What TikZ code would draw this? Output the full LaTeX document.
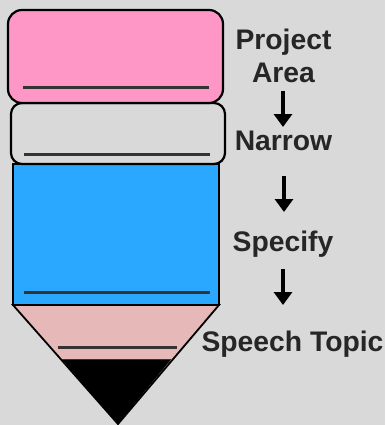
\documentclass[tikz,border=0pt]{standalone}
\usepackage{fontspec}
\setmainfont{Liberation Sans}
\usetikzlibrary{arrows.meta}
\definecolor{bg}{HTML}{D9D9D9}
\definecolor{pinkc}{HTML}{FF97C6}
\definecolor{bluec}{HTML}{2AA8FF}
\definecolor{tipc}{HTML}{E6B8B7}
\definecolor{txt}{HTML}{262626}
\definecolor{rule}{HTML}{333333}
\tikzset{
  lab/.style={text=txt,font=\fontsize{28.3}{33}\selectfont\bfseries,inner sep=0pt,align=center},
  rulel/.style={draw=rule,line width=2.4pt},
  arr/.style={draw=black,line width=4pt,-{Triangle[length=13pt,width=18pt]}},
  body/.style={draw=black,line width=2.2pt}
}
\begin{document}
\begin{tikzpicture}[x=1pt,y=-1pt]
\useasboundingbox (0,0) rectangle (385,425);
\fill[bg] (0,0) rectangle (385,425);
% tip
\filldraw[draw=black,line width=1.8pt,fill=tipc,line join=miter] (13,305) -- (219,305) -- (118,424) -- cycle;
\fill[black] (62,359.5) -- (167.5,359.5) -- (171,359.5) -- (118,423.5) -- cycle;
\draw[draw=rule,line width=1pt] (62,359.5) -- (171,359.5);
% body
\filldraw[body,fill=bluec] (13,164) rectangle (219,305);
\filldraw[body,fill=bg,rounded corners=11pt] (11,103) rectangle (225,164);
\filldraw[body,fill=pinkc,rounded corners=14pt] (8,10) rectangle (223,103);
% rules
\coordinate (r1a) at (23,87.4); \coordinate (r1b) at (209,87.4);
\coordinate (r2a) at (24,154.4); \coordinate (r2b) at (210,154.4);
\coordinate (r3a) at (24,292.4); \coordinate (r3b) at (210,292.4);
\coordinate (r4a) at (58,347.4); \coordinate (r4b) at (177,347.4);
\draw[rulel] (r1a) -- (r1b);
\draw[rulel] (r2a) -- (r2b);
\draw[rulel] (r3a) -- (r3b);
\draw[rulel] (r4a) -- (r4b);
% labels
\node[lab] (project) at (283.5,55.8) {Project\\Area};
\node[lab,anchor=base] (narrow) at (283.5,150.5) {Narrow};
\node[lab,anchor=base] (specify) at (283,251.5) {Specify};
\node[lab,anchor=base] (topic) at (292.5,351.5) {Speech Topic};
% arrows
\coordinate (a1a) at (283,91); \coordinate (a1b) at (283,127);
\coordinate (a2a) at (284,176); \coordinate (a2b) at (284,212);
\coordinate (a3a) at (283,269); \coordinate (a3b) at (283,305);
\draw[arr] (a1a) -- (a1b);
\draw[arr] (a2a) -- (a2b);
\draw[arr] (a3a) -- (a3b);
\end{tikzpicture}
\end{document}
